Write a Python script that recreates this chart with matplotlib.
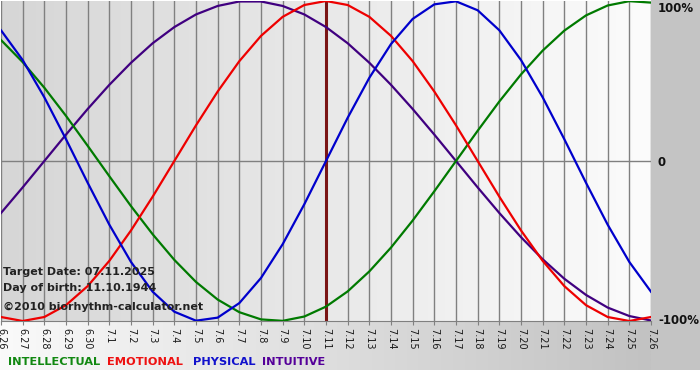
import numpy as np
import matplotlib
matplotlib.use("Agg")
import matplotlib.pyplot as plt
from matplotlib.colors import LinearSegmentedColormap

# ---- data ----
days = ["6.26", "6.27", "6.28", "6.29", "6.30",
        "7.1", "7.2", "7.3", "7.4", "7.5", "7.6", "7.7", "7.8", "7.9", "7.10",
        "7.11", "7.12", "7.13", "7.14", "7.15", "7.16", "7.17", "7.18", "7.19",
        "7.20", "7.21", "7.22", "7.23", "7.24", "7.25", "7.26"]

physical = [0.817, 0.631, 0.398, 0.136, -0.136, -0.398, -0.631, -0.817, -0.942, -0.998,
            -0.979, -0.888, -0.731, -0.520, -0.270, 0.0, 0.270, 0.520, 0.731, 0.888,
            0.979, 0.998, 0.942, 0.817, 0.631, 0.398, 0.136, -0.136, -0.398, -0.631, -0.817]

emotional = [-0.975, -1.0, -0.975, -0.901, -0.782, -0.624, -0.434, -0.223, 0.0, 0.223,
             0.434, 0.624, 0.782, 0.901, 0.975, 1.0, 0.975, 0.901, 0.782, 0.624,
             0.434, 0.223, 0.0, -0.223, -0.434, -0.624, -0.782, -0.901, -0.975, -1.0, -0.975]

intellectual = [0.756, 0.618, 0.458, 0.282, 0.095, -0.095, -0.282, -0.458, -0.618, -0.756,
                -0.866, -0.945, -0.990, -0.999, -0.972, -0.910, -0.815, -0.690, -0.541, -0.372,
                -0.189, 0.0, 0.189, 0.372, 0.541, 0.690, 0.815, 0.910, 0.972, 0.999, 0.990]

intuitive = [-0.325, -0.165, 0.0, 0.165, 0.325, 0.476, 0.614, 0.736, 0.837, 0.916,
             0.969, 0.997, 0.997, 0.969, 0.916, 0.837, 0.736, 0.614, 0.476, 0.325,
             0.165, 0.0, -0.165, -0.325, -0.476, -0.614, -0.736, -0.837, -0.916, -0.969, -0.997]

target_day = "7.11"
info_lines = ["Target Date: 07.11.2025", "Day of birth: 11.10.1944", "\u00a92010 biorhythm-calculator.net"]
y_labels = ["100%", "0", "-100%"]
legend_names = ["INTELLECTUAL", "EMOTIONAL", "PHYSICAL", "INTUITIVE"]

# ---- styling ----
W, H = 700, 380
fig = plt.figure(figsize=(W / 100, H / 100), dpi=100)
fig.patch.set_facecolor("white")

# background layer in pixel coordinates
bg = fig.add_axes([0, 0, 1, 1], zorder=0)
bg.set_xlim(0, W)
bg.set_ylim(H, 0)
bg.axis("off")
grad = np.linspace(0, 1, 256)[None, :]
band_cmap = LinearSegmentedColormap.from_list("band", ["#fafafa", "#c2c2c2"])
bg.imshow(grad, extent=(0, 651, 370, 321), cmap=band_cmap, aspect="auto", zorder=0)
bg.add_patch(plt.Rectangle((651, 0), W - 651, 370, color="#c4c4c4", zorder=0, lw=0))

ax_l, ax_r, ax_t, ax_b = 1, 651, 1, 321
ax = fig.add_axes([ax_l / W, 1 - ax_b / H, (ax_r - ax_l) / W, (ax_b - ax_t) / H], zorder=1)
x = np.arange(len(days))
ax.set_xlim(x[0], x[-1])
ax.set_ylim(-1, 1)

plot_cmap = LinearSegmentedColormap.from_list("plotbg", ["#d6d6d6", "#fcfcfc"])
ax.imshow(grad, extent=(x[0], x[-1], -1, 1), cmap=plot_cmap, aspect="auto", zorder=0)

ax.set_xticks(x)
ax.set_xticklabels(days, rotation=270, fontsize=7, color="#1a1a1a")
ax.set_yticks([])
ax.grid(axis="x", color="#808080", lw=1, zorder=1)
ax.set_axisbelow(True)
ax.axhline(0, color="#808080", lw=1, zorder=1)
ax.axvline(x[days.index(target_day)], color="#7a1515", lw=2.2, zorder=2)
for s in ["top", "left", "right"]:
    ax.spines[s].set_visible(False)
ax.spines["bottom"].set_color("#808080")
ax.tick_params(axis="x", direction="out", length=3, color="#808080", pad=2)

lw = 1.6
ax.plot(x, intuitive, color="#400080", lw=lw, zorder=3)
ax.plot(x, intellectual, color="#007a00", lw=lw, zorder=3)
ax.plot(x, emotional, color="#ee0000", lw=lw, zorder=3)
ax.plot(x, physical, color="#0000cc", lw=lw, zorder=3)

# overlay layer for texts (pixel coordinates, drawn above the plot)
top = fig.add_axes([0, 0, 1, 1], zorder=2)
top.set_xlim(0, W)
top.set_ylim(H, 0)
top.axis("off")
top.patch.set_alpha(0)

for lab, ypix in zip(y_labels, [8, 162, 321]):
    top.text(658, ypix, lab, ha="left", va="center", fontsize=8.5,
             fontweight="bold", color="#111111")

for t, ypix in zip(info_lines, [272, 288, 307]):
    top.text(3, ypix, t, ha="left", va="center", fontsize=8.0, fontweight="bold",
             color="#222222")

legend_colors = ["#118811", "#ee1111", "#1111cc", "#550099"]
for name, c, xp in zip(legend_names, legend_colors, [8, 107, 193, 262]):
    top.text(xp, 362, name, ha="left", va="center", fontsize=8.2, fontweight="bold", color=c)

fig.savefig("out.png", dpi=100)
